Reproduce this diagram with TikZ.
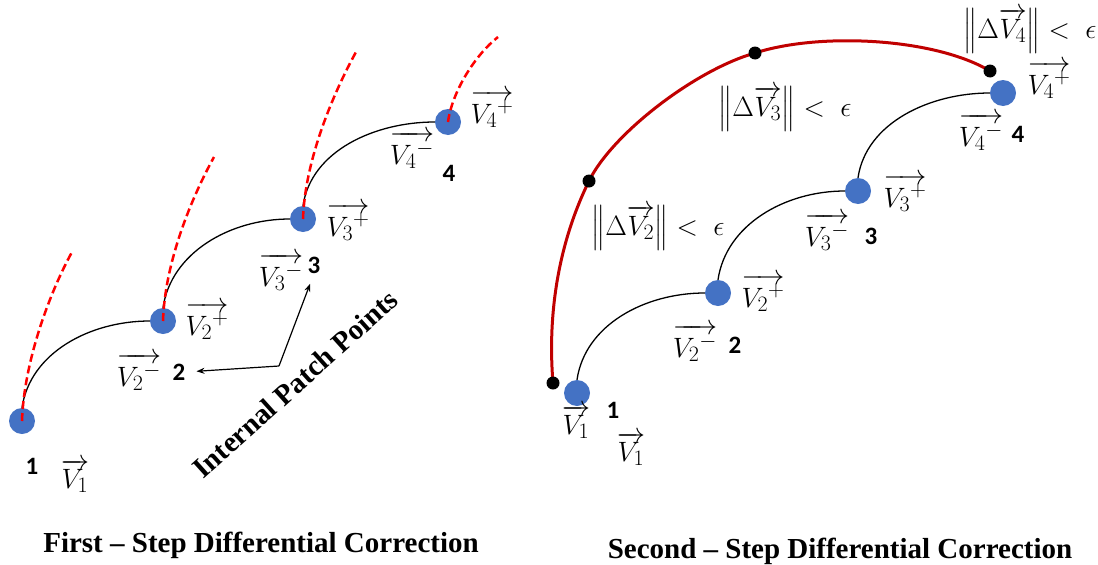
\RequirePackage{fix-cm}
\documentclass[tikz,border=0pt]{standalone}
\usepackage{amsmath}
\usepackage{fontspec}
\setmainfont{Liberation Serif}
\newfontfamily\calib{Carlito}
\DeclareMathSizes{28}{28}{22}{17}
\usepackage{tikz}
\usetikzlibrary{arrows.meta}
\definecolor{patchblue}{RGB}{68,114,196}
\definecolor{convred}{RGB}{192,0,0}

\begin{document}
\begin{tikzpicture}[x=1pt,y=-1pt,
  patch/.style={circle,fill=patchblue,minimum size=26pt,inner sep=0pt},
  knot/.style={circle,fill=black,minimum size=13pt,inner sep=0pt},
  seg/.style={line width=1.3pt},
  trial/.style={red,line width=2.5pt,dash pattern=on 8pt off 4pt},
  conv/.style={convred,line width=3pt},
  ptr/.style={-{Stealth[length=8pt,width=6pt]},line width=1.2pt,shorten >=11pt},
  vlab/.style={font=\fontsize{28}{30}\selectfont,inner sep=0pt},
  num/.style={font=\fontsize{25}{28}\selectfont\calib\bfseries,inner sep=0pt},
  title/.style={font=\bfseries\fontsize{29}{34}\selectfont,inner sep=0pt}]

\useasboundingbox (0,0) rectangle (1098,565);

% Primo passo: punti di patch
\node[patch] (p1) at (22,421) {};
\node[patch] (p2) at (163,321) {};
\node[patch] (p3) at (303,219) {};
\node[patch] (p4) at (448,122) {};

\draw[seg] (p1.north) .. controls +(8,-55) and +(-60,0) .. (p2.west);
\draw[seg] (p2.north) .. controls +(8,-55) and +(-60,0) .. (p3.west);
\draw[seg] (p3.north) .. controls +(8,-55) and +(-60,0) .. (p4.west);

% Traiettorie di prova
\coordinate (t1) at (72,252);
\coordinate (t2) at (214,157);
\coordinate (t3) at (356,52);
\coordinate (t4) at (498,37);
\draw[trial] (p1.center) .. controls +(2,-60) and +(-22,40) .. (t1);
\draw[trial] (p2.center) .. controls +(2,-60) and +(-22,40) .. (t2);
\draw[trial] (p3.center) .. controls +(2,-60) and +(-22,40) .. (t3);
\draw[trial] (p4.center) .. controls +(4,-30) and +(-23,18) .. (t4);

% Etichette
\node[num] (n1) at (32,466) {1};
\node[vlab] at (75,476) {$\overrightarrow{V_1}$};
\node[vlab] at (139,372) {$\overrightarrow{V_2{}^{-}}$};
\node[num] (n2) at (179,372) {2};
\node[vlab] at (207,321) {$\overrightarrow{V_2{}^{+}}$};
\node[vlab] at (281,272) {$\overrightarrow{V_3{}^{-}}$};
\node[num] (n3) at (314,265) {3};
\node[vlab] at (348,222) {$\overrightarrow{V_3{}^{+}}$};
\node[vlab] at (412,150) {$\overrightarrow{V_4{}^{-}}$};
\node[num] (n4) at (449,173) {4};
\node[vlab] at (492,109) {$\overrightarrow{V_4{}^{+}}$};

\coordinate (bend) at (279,366);
\draw[ptr] (bend) -- (n2.east);
\draw[ptr] (bend) -- (n3.south);
\node[title,rotate=42] (ipp) at (295,384) {Internal Patch Points};

\node[title,anchor=base] (cap1) at (261,552) {First -- Step Differential Correction};

% Secondo passo
\node[patch] (q1) at (577,393) {};
\node[patch] (q2) at (718,293) {};
\node[patch] (q3) at (858,191) {};
\node[patch] (q4) at (1003,93) {};

\draw[seg] (q1.north) .. controls +(8,-55) and +(-60,0) .. (q2.west);
\draw[seg] (q2.north) .. controls +(8,-55) and +(-60,0) .. (q3.west);
\draw[seg] (q3.north) .. controls +(8,-55) and +(-60,0) .. (q4.west);

% Traiettoria continua
\coordinate (ka) at (553,383);
\coordinate (kb) at (589,181);
\coordinate (kc) at (755,53);
\coordinate (kd) at (990,71);
\draw[conv] (ka) .. controls (547,310) and (560,240) .. (kb)
    .. controls (612,134) and (695,70) .. (kc)
    .. controls (820,32) and (935,38) .. (kd);
\node[knot] (da) at (ka) {};
\node[knot] (db) at (kb) {};
\node[knot] (dc) at (kc) {};
\node[knot] (dd) at (kd) {};

\node[vlab] at (658,228) {$\big\|\Delta\overrightarrow{V_2}\big\| <\;\epsilon$};
\node[vlab] at (785,109) {$\big\|\Delta\overrightarrow{V_3}\big\| <\;\epsilon$};
\node[vlab] at (1030,31) {$\big\|\Delta\overrightarrow{V_4}\big\| <\;\epsilon$};

\node[vlab] at (576,422) {$\overrightarrow{V_1}$};
\node[num] (m1) at (613,410) {1};
\node[vlab] at (631,449) {$\overrightarrow{V_1}$};
\node[vlab] at (695,343) {$\overrightarrow{V_2{}^{-}}$};
\node[num] (m2) at (735,345) {2};
\node[vlab] at (763,293) {$\overrightarrow{V_2{}^{+}}$};
\node[vlab] at (827,232) {$\overrightarrow{V_3{}^{-}}$};
\node[num] (m3) at (871,236) {3};
\node[vlab] at (905,193) {$\overrightarrow{V_3{}^{+}}$};
\node[vlab] at (981,132) {$\overrightarrow{V_4{}^{-}}$};
\node[num] (m4) at (1018,134) {4};
\node[vlab] at (1049,80) {$\overrightarrow{V_4{}^{+}}$};

\node[title,anchor=base] (cap2) at (840,558) {Second -- Step Differential Correction};

\end{tikzpicture}
\end{document}
